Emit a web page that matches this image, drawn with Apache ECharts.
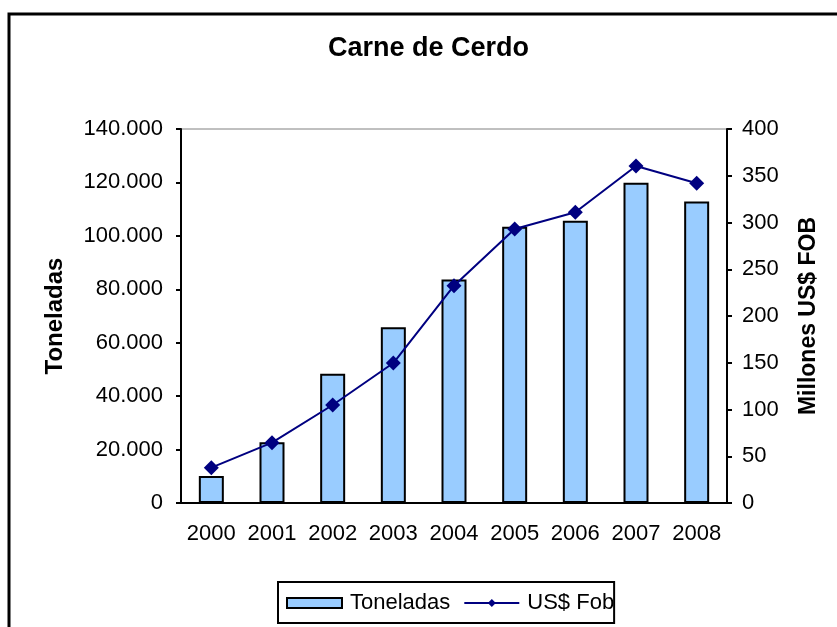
<!DOCTYPE html>
<html>
<head>
<meta charset="utf-8">
<script src="https://cdn.jsdelivr.net/npm/echarts@6/dist/echarts.min.js"></script>
<style>
  html, body { margin: 0; padding: 0; background: #fff; }
  #chart { width: 837px; height: 627px; }
</style>
</head>
<body>
<div id="chart"></div>
<script>
// data
const years = ['2000', '2001', '2002', '2003', '2004', '2005', '2006', '2007', '2008']
const toneladas = [10100, 22700, 48400, 65800, 83700, 103400, 105700, 119900, 112900]
const usFob = [37.8, 64.5, 104.8, 149.7, 232.4, 293.0, 310.9, 360.4, 341.9]

const FONT = '"Liberation Sans", Arial, sans-serif'

// 140000 -> "140.000"
function miles(v) {
  return String(v).replace(/\B(?=(\d{3})+(?!\d))/g, '.')
}

const chart = echarts.init(document.getElementById('chart'))

chart.setOption({
  animation: false,
  backgroundColor: '#fff',
  textStyle: { fontFamily: FONT, color: '#000' },
  graphic: [
    {
      type: 'rect',
      shape: { x: 9, y: 14, width: 900, height: 700 },
      style: { fill: 'none', stroke: '#000', lineWidth: 3 },
      silent: true
    }
  ],
  title: {
    text: 'Carne de Cerdo',
    left: 328,
    top: 35,
    padding: 0,
    textStyle: { fontFamily: FONT, fontSize: 27, fontWeight: 'bold', color: '#000' }
  },
  legend: {
    left: 278,
    top: 582,
    padding: [10, 0, 9, 8],
    borderColor: '#000',
    borderWidth: 2,
    itemWidth: 55,
    itemHeight: 10,
    itemGap: 13,
    textStyle: { fontFamily: FONT, fontSize: 22, color: '#000', padding: [0, 0, 0, 3] },
    data: [{ name: 'Toneladas', icon: 'rect' }, { name: 'US$ Fob' }]
  },
  grid: {
    left: 181,
    right: 110,
    top: 129,
    bottom: 124,
    show: true,
    borderColor: '#808080',
    borderWidth: 1
  },
  xAxis: {
    type: 'category',
    data: years,
    axisLine: { lineStyle: { color: '#000', width: 2 } },
    axisTick: { length: 5, lineStyle: { color: '#000', width: 2 } },
    axisLabel: { interval: 0, fontFamily: FONT, fontSize: 22, color: '#000', margin: 20 }
  },
  yAxis: [
    {
      type: 'value',
      min: 0,
      max: 140000,
      interval: 20000,
      name: 'Toneladas',
      nameLocation: 'middle',
      nameRotate: 90,
      nameGap: 114,
      nameTextStyle: { fontFamily: FONT, fontSize: 24, fontWeight: 'bold', color: '#000' },
      axisLine: { show: true, lineStyle: { color: '#000', width: 2 } },
      axisTick: { show: true, length: 5, lineStyle: { color: '#000', width: 2 } },
      axisLabel: { fontFamily: FONT, fontSize: 22, color: '#000', margin: 18, formatter: miles },
      splitLine: { show: false }
    },
    {
      type: 'value',
      min: 0,
      max: 400,
      interval: 50,
      position: 'right',
      name: 'Millones US$ FOB',
      nameLocation: 'middle',
      nameRotate: 90,
      nameGap: 70,
      nameTextStyle: { fontFamily: FONT, fontSize: 23, fontWeight: 'bold', color: '#000' },
      axisLine: { show: true, lineStyle: { color: '#000', width: 2 } },
      axisTick: { show: true, length: 5, lineStyle: { color: '#000', width: 2 } },
      axisLabel: { fontFamily: FONT, fontSize: 22, color: '#000', margin: 15 },
      splitLine: { show: false }
    }
  ],
  series: [
    {
      name: 'Toneladas',
      type: 'bar',
      yAxisIndex: 0,
      barWidth: 25,
      itemStyle: { color: '#99CCFF', borderColor: '#000', borderWidth: 2 },
      data: toneladas
    },
    {
      name: 'US$ Fob',
      type: 'line',
      yAxisIndex: 1,
      symbol: 'diamond',
      symbolSize: 15,
      lineStyle: { color: '#000080', width: 2 },
      itemStyle: { color: '#000080' },
      data: usFob
    }
  ]
})
</script>
</body>
</html>
